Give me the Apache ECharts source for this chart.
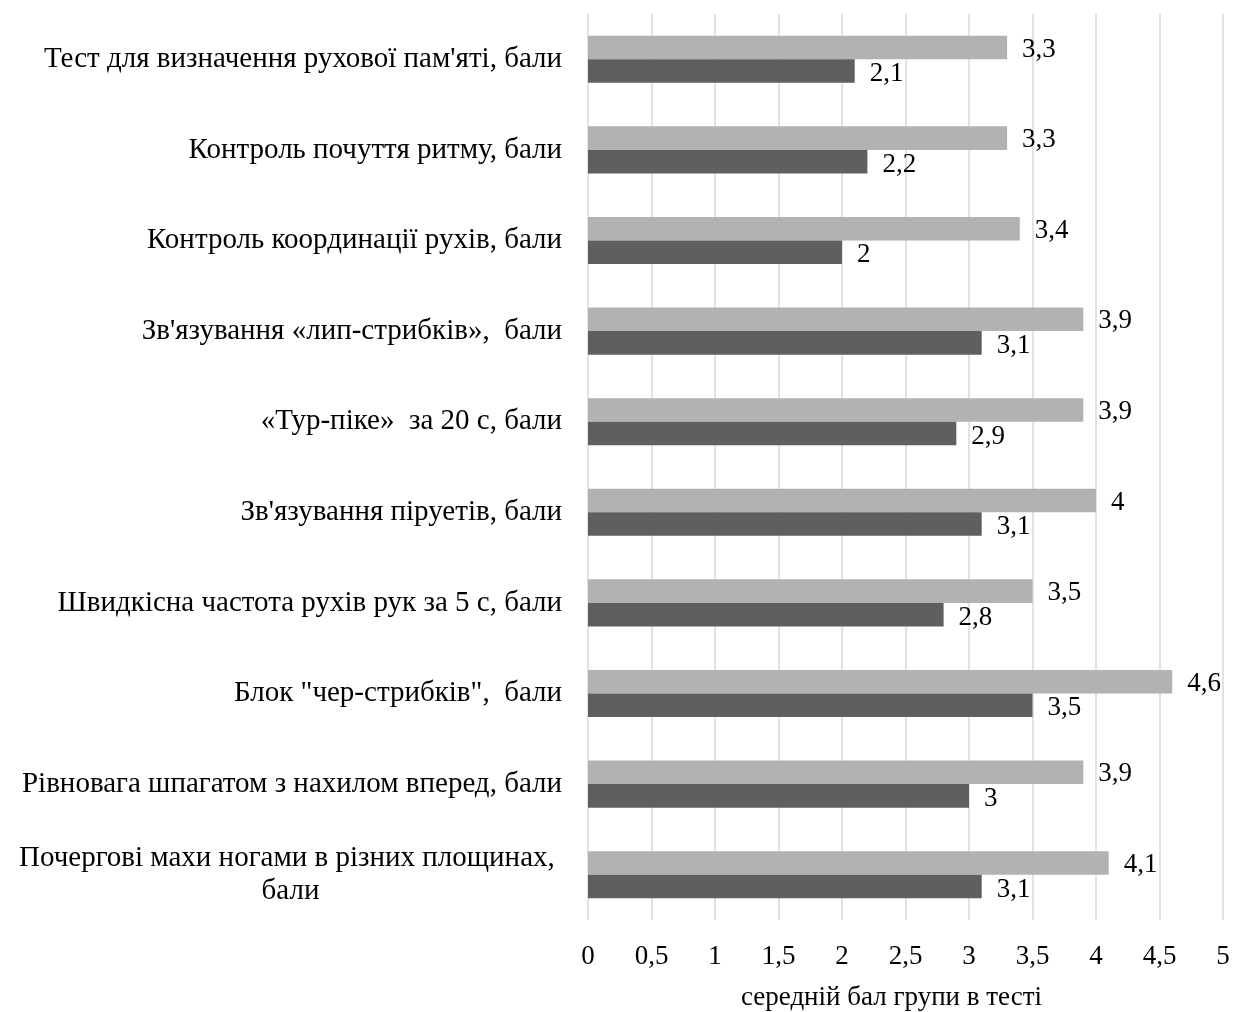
<!DOCTYPE html>
<html>
<head>
<meta charset="utf-8">
<script src="https://cdn.jsdelivr.net/npm/echarts@6/dist/echarts.min.js"></script>
<style>
html,body{margin:0;padding:0;background:#fff;}
#chart{width:1234px;height:1012px;}
</style>
</head>
<body>
<div id="chart"></div>
<script>
var categories = [
  "Тест для визначення рухової пам'яті, бали",
  "Контроль почуття ритму, бали",
  "Контроль координації рухів, бали",
  "Зв'язування «лип-стрибків»,  бали",
  "«Тур-піке»  за 20 с, бали",
  "Зв'язування піруетів, бали",
  "Швидкісна частота рухів рук за 5 с, бали",
  "Блок \"чер-стрибків\",  бали",
  "Рівновага шпагатом з нахилом вперед, бали",
  "Почергові махи ногами в різних площинах, \nбали"
];
var seriesLight = [3.3, 3.3, 3.4, 3.9, 3.9, 4, 3.5, 4.6, 3.9, 4.1];
var seriesDark = [2.1, 2.2, 2, 3.1, 2.9, 3.1, 2.8, 3.5, 3, 3.1];
var xTicks = ["0", "0,5", "1", "1,5", "2", "2,5", "3", "3,5", "4", "4,5", "5"];
var xAxisName = "середній бал групи в тесті";

var FONT = "'Liberation Serif', 'Times New Roman', serif";
function fmt(v) { return String(v).replace('.', ','); }

var chart = echarts.init(document.getElementById('chart'), null, {renderer: 'canvas'});
chart.setOption({
  animation: false,
  backgroundColor: '#ffffff',
  grid: {left: 588, right: 11, top: 14, bottom: 92, containLabel: false, outerBoundsMode: 'none'},
  xAxis: {
    type: 'value', min: 0, max: 5, interval: 0.5,
    axisLine: {show: false}, axisTick: {show: false},
    splitLine: {show: true, lineStyle: {color: '#d9d9d9', width: 1.5}},
    axisLabel: {
      margin: 23, color: '#000', fontFamily: FONT, fontSize: 27,
      formatter: function (v) { return xTicks[Math.round(v / 0.5)]; }
    },
    name: xAxisName, nameLocation: 'middle', nameGap: 64,
    nameTextStyle: {color: '#000', fontFamily: FONT, fontSize: 27, padding: [0, 28, 0, 0]}
  },
  yAxis: {
    type: 'category', data: categories, inverse: true,
    axisLine: {show: false}, axisTick: {show: false},
    axisLabel: {
      margin: 26, color: '#000', fontFamily: FONT, fontSize: 29, lineHeight: 33,
      formatter: function (v) {
        if (v.indexOf('\n') >= 0) {
          return v.split('\n').map(function (l) { return '{c|' + l + '}'; }).join('\n');
        }
        return v;
      },
      rich: {c: {align: 'center', color: '#000', fontFamily: FONT, fontSize: 29, lineHeight: 33}}
    }
  },
  series: [
    {
      name: 'light', type: 'bar', data: seriesLight,
      barGap: '0%', barCategoryGap: '48%',
      itemStyle: {color: '#b2b2b2'},
      label: {show: true, position: 'right', distance: 15, offset: [0, 2],
        color: '#000', fontFamily: FONT, fontSize: 27,
        formatter: function (p) { return fmt(p.value); }}
    },
    {
      name: 'dark', type: 'bar', data: seriesDark,
      barGap: '0%', barCategoryGap: '48%',
      itemStyle: {color: '#5f5f5f'},
      label: {show: true, position: 'right', distance: 15, offset: [0, 3],
        color: '#000', fontFamily: FONT, fontSize: 27,
        formatter: function (p) { return fmt(p.value); }}
    }
  ]
});
</script>
</body>
</html>
